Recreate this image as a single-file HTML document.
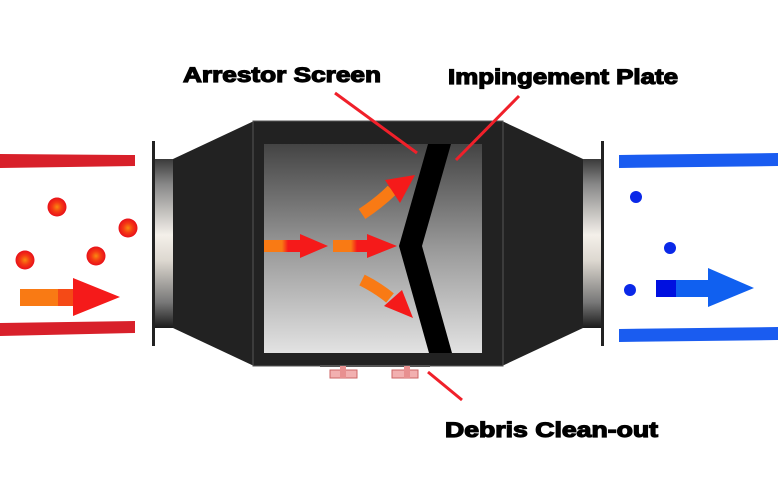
<!DOCTYPE html>
<html><head><meta charset="utf-8"><style>
html,body{margin:0;padding:0;background:#fff;}
svg{display:block;}
text{font-family:"Liberation Sans",Arial,sans-serif;font-weight:bold;font-size:21px;fill:#000;stroke:#000;stroke-width:1.2px;}
</style></head><body>
<svg width="778" height="492" viewBox="0 0 778 492" xmlns="http://www.w3.org/2000/svg">
<defs>
<linearGradient id="pipe" x1="0" y1="0" x2="0" y2="1">
<stop offset="0" stop-color="#3a3a3a"/><stop offset="0.15" stop-color="#888"/><stop offset="0.45" stop-color="#f4f0ea"/><stop offset="0.6" stop-color="#ddd8d0"/><stop offset="0.85" stop-color="#777"/><stop offset="1" stop-color="#1a1a1a"/>
</linearGradient>
<linearGradient id="win" x1="0" y1="0" x2="0" y2="1">
<stop offset="0" stop-color="#444"/><stop offset="0.5" stop-color="#999"/><stop offset="1" stop-color="#e2e2e2"/>
</linearGradient>
<linearGradient id="oa" x1="0" y1="0" x2="1" y2="0">
<stop offset="0" stop-color="#f97a14"/><stop offset="0.45" stop-color="#f97a14"/><stop offset="0.6" stop-color="#f51a1a"/><stop offset="1" stop-color="#f51a1a"/>
</linearGradient>
<radialGradient id="rd"><stop offset="0" stop-color="#f88a10"/><stop offset="0.5" stop-color="#f53a14"/><stop offset="1" stop-color="#e8101a"/></radialGradient>
</defs>

<!-- left red bars -->
<polygon points="0,154 135,155 135,166 0,168" fill="#d8202a"/>
<polygon points="0,323 135,321 135,333 0,336" fill="#d8202a"/>
<circle cx="57" cy="207" r="9.5" fill="url(#rd)"/>
<circle cx="128" cy="228" r="9.5" fill="url(#rd)"/>
<circle cx="25" cy="260" r="9.5" fill="url(#rd)"/>
<circle cx="96" cy="256" r="9.5" fill="url(#rd)"/>
<rect x="20" y="289" width="55" height="17" fill="#f97a14"/>
<rect x="58" y="289" width="18" height="17" fill="#f54a16"/>
<polygon points="73,278 120,297 73,316" fill="#f51a1a"/>

<!-- right blue bars -->
<polygon points="619,155 778,153 778,166 619,168" fill="#1a5cf0"/>
<polygon points="619,329 778,327 778,340 619,342" fill="#1a5cf0"/>
<circle cx="636" cy="197" r="6" fill="#0a28e8"/>
<circle cx="670" cy="248" r="6" fill="#0a28e8"/>
<circle cx="630" cy="290" r="6" fill="#0a28e8"/>
<rect x="656" y="280" width="20" height="17" fill="#0010e0"/>
<rect x="676" y="280" width="34" height="17" fill="#1060f0"/>
<polygon points="708,268 754,288 708,307" fill="#1060f0"/>

<!-- left flange -->
<rect x="152" y="141" width="3" height="205" fill="#222"/>
<rect x="155" y="159" width="18" height="169" fill="url(#pipe)"/>
<polygon points="173,159 254,121 254,366 173,328" fill="#222"/>
<!-- right flange -->
<polygon points="502,121 583,159 583,328 502,366" fill="#222"/>
<rect x="583" y="159" width="18" height="169" fill="url(#pipe)"/>
<rect x="601" y="141" width="3" height="205" fill="#222"/>

<!-- body -->
<rect x="253" y="121" width="250" height="245" fill="#222" stroke="#555" stroke-width="1"/>
<rect x="264" y="144" width="218" height="209" fill="url(#win)"/>

<!-- plate -->
<polygon points="428,144 451,144 422,246 452,353 429,353 399,246" fill="#000"/>

<!-- straight arrows -->
<rect x="264" y="240" width="40" height="12" fill="url(#oa)"/>
<polygon points="300,234 328,246 300,258" fill="#f51a1a"/>
<rect x="333" y="240" width="40" height="12" fill="url(#oa)"/>
<polygon points="367,234 397,246 367,258" fill="#f51a1a"/>
<!-- curved arrows -->
<path d="M362,214 Q380,202 392,190" stroke="#f97a14" stroke-width="12" fill="none"/>
<polygon points="385,180 415,175 400,203" fill="#f51a1a"/>
<path d="M362,280 Q378,288 390,298" stroke="#f97a14" stroke-width="12" fill="none"/>
<polygon points="384,306 413,318 402,290" fill="#f51a1a"/>

<!-- valves -->
<rect x="320" y="365" width="110" height="2" fill="#555"/>
<rect x="330" y="370" width="27" height="8" fill="#f2b0b0" stroke="#c66" stroke-width="1"/>
<rect x="340" y="366" width="6" height="12" fill="#e89090"/>
<rect x="392" y="370" width="26" height="8" fill="#f2b0b0" stroke="#c66" stroke-width="1"/>
<rect x="404" y="366" width="6" height="12" fill="#e89090"/>

<!-- leaders -->
<line x1="335" y1="93" x2="417" y2="153" stroke="#f0202a" stroke-width="3"/>
<line x1="519" y1="96" x2="456" y2="160" stroke="#f0202a" stroke-width="3"/>
<line x1="428" y1="372" x2="462" y2="400" stroke="#f0202a" stroke-width="3"/>

<text x="183" y="82" textLength="198" lengthAdjust="spacingAndGlyphs">Arrestor Screen</text>
<text x="448" y="84" textLength="230" lengthAdjust="spacingAndGlyphs">Impingement Plate</text>
<text x="445" y="437" textLength="213" lengthAdjust="spacingAndGlyphs">Debris Clean-out</text>
</svg>
</body></html>
